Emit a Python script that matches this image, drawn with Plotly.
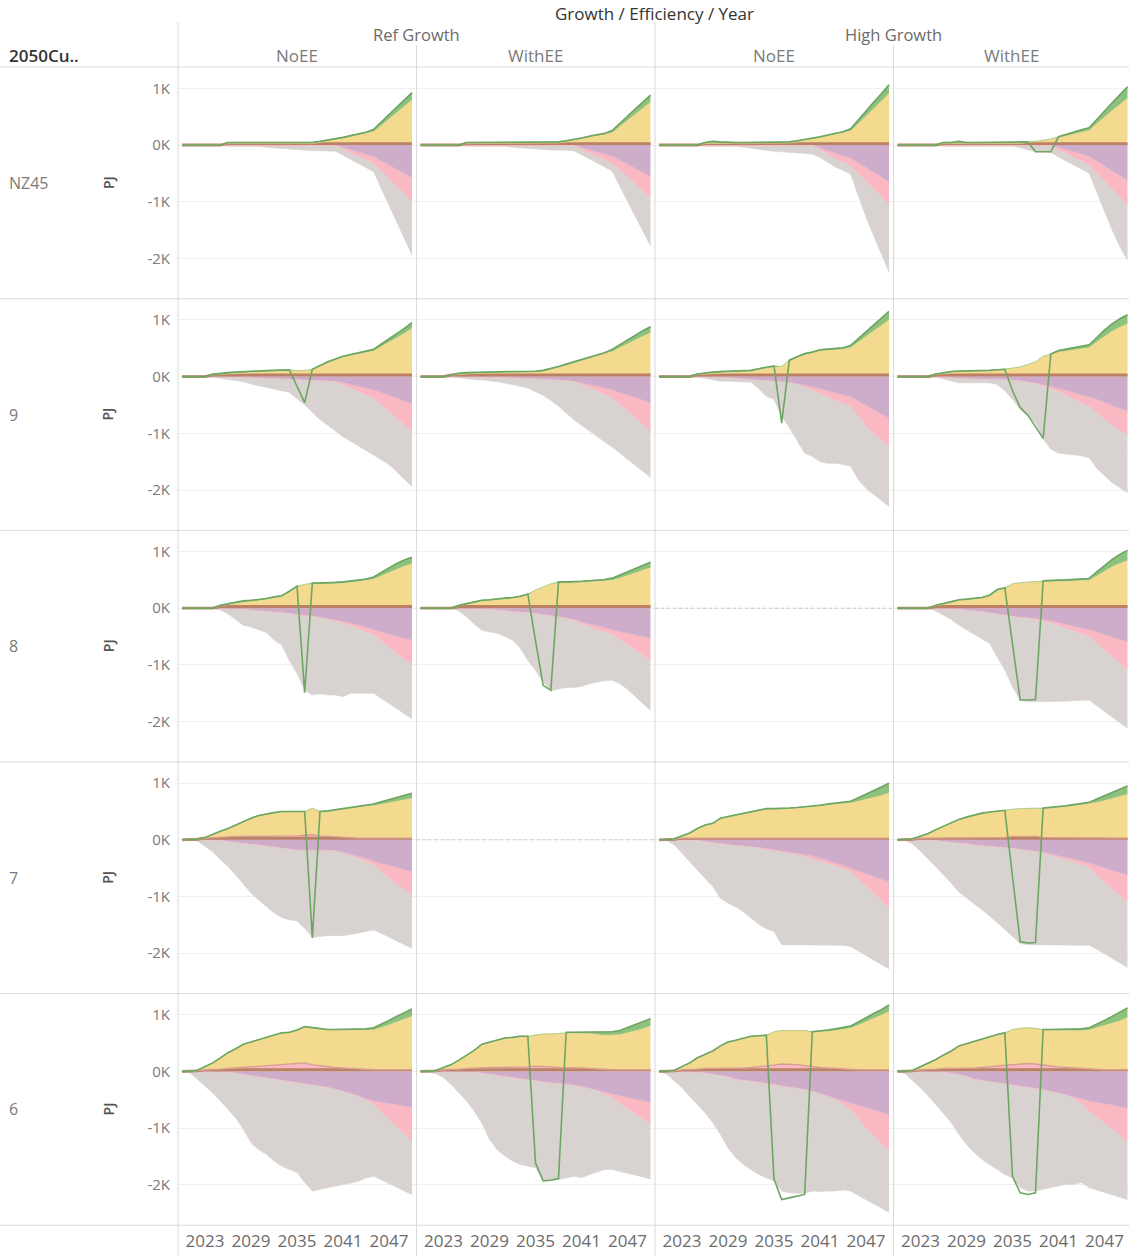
import plotly.graph_objects as go

# ---------------------------------------------------------------- axes / labels
YEARS = list(range(2020, 2051))
ROW_LABELS = ["NZ45", "9", "8", "7", "6"]
GROWTH_LABELS = ["Ref Growth", "High Growth"]
EFFICIENCY_LABELS = ["NoEE", "WithEE", "NoEE", "WithEE"]
YEAR_TICKS = [2023, 2029, 2035, 2041, 2047]
PJ_TICKS = [-2000, -1000, 0, 1000]
PJ_TICK_TEXT = ["-2K", "-1K", "0K", "1K"]

# ---------------------------------------------------------------- data (PJ, 2020..2050)
brown_from_2026 = [0,0,0,0,0, 0,25,25,25,25, 25,25,25,25,25, 25,25,25,25,25, 25,25,25,25,25, 25,25,25,25,25, 25]
brown_from_2024 = [0,0,0,0,30, 30,30,30,30,30, 30,30,30,30,30, 30,30,30,30,30, 30,30,30,30,30, 30,30,30,30,30, 30]
brown_from_2025 = [0,0,0,0,0, 30,30,30,30,30, 30,30,30,30,30, 30,30,30,30,30, 30,30,30,30,30, 30,30,30,30,30, 30]
brown_from_2022 = [0,0,10,30,30, 30,30,30,30,30, 30,30,30,30,30, 30,30,30,30,30, 30,30,30,30,30, 30,30,30,30,30, 30]

# NZ45 · Ref Growth · NoEE
nz_rn_yellow = [0,0,0,0,0, 0,0,0,0,0, 0,0,0,0,0, 0,0,0,20,40, 60,90,120,150,180, 210,320,430,540,650, 770]
nz_rn_green  = [0,0,0,0,0, 0,20,20,20,20, 20,20,20,20,20, 20,20,20,20,20, 20,20,20,20,20, 40,60,80,100,115, 130]
nz_rn_purple = [0,0,0,0,0, 0,0,0,0,0, 0,0,0,0,0, 0,0,0,0,0, 0,40,80,120,160, 200,280,350,430,500, 580]
nz_rn_pink   = [0,0,0,0,0, 0,20,20,20,20, 20,20,20,20,20, 10,10,10,10,10, 10,30,50,70,95, 120,180,240,300,360, 420]
nz_rn_gray   = [0,0,0,0,0, 0,0,0,0,0, 0,20,30,40,60, 80,90,90,90,90, 100,110,120,130,140, 150,310,470,630,790, 940]

# NZ45 · Ref Growth · WithEE
nz_rw_yellow = [0,0,0,0,0, 0,0,0,0,0, 0,0,0,0,0, 0,0,0,10,30, 50,80,110,140,160, 190,300,410,520,620, 730]
nz_rw_green  = [0,0,0,0,0, 0,20,20,20,20, 20,20,20,20,20, 20,20,20,20,20, 20,20,20,20,20, 40,60,75,90,110, 125]
nz_rw_purple = [0,0,0,0,0, 0,0,0,0,0, 0,0,0,0,0, 0,0,0,0,0, 0,40,80,120,160, 200,270,340,410,480, 550]
nz_rw_pink   = [0,0,0,0,0, 0,20,20,20,20, 20,20,20,20,20, 10,10,10,10,10, 10,30,50,70,95, 120,170,220,270,325, 380]
nz_rw_gray   = [0,0,0,0,0, 0,0,0,0,0, 0,0,20,30,50, 70,80,80,80,80, 90,100,110,120,130, 140,290,430,570,710, 850]

# NZ45 · High Growth · NoEE
nz_hn_yellow = [0,0,0,0,0, 0,0,0,0,0, 0,0,0,0,0, 0,0,10,30,50, 70,100,130,160,190, 220,350,480,610,740, 880]
nz_hn_green  = [0,0,0,0,0, 0,20,40,30,20, 20,20,20,20,20, 20,20,20,20,20, 20,20,20,20,20, 40,70,100,120,140, 155]
nz_hn_purple = [0,0,0,0,0, 0,0,0,0,0, 0,0,0,0,0, 0,0,0,0,0, 0,50,100,150,190, 230,310,390,470,560, 650]
nz_hn_pink   = [0,0,0,0,0, 0,20,20,20,20, 20,20,20,20,20, 10,10,10,10,10, 10,30,60,90,110, 130,190,240,300,350, 410]
nz_hn_gray   = [0,0,0,0,0, 0,0,0,0,0, 0,20,40,60,80, 100,110,120,130,140, 150,140,145,150,150, 150,400,640,830,1010, 1180]

# NZ45 · High Growth · WithEE
nz_hw_yellow = [0,0,0,0,0, 0,0,0,0,0, 0,0,0,0,0, 0,0,20,40,60, 80,100,135,170,200, 230,350,470,580,690, 800]
nz_hw_green  = [0,0,0,0,0, 0,20,20,40,20, 20,20,20,20,20, 20,20,10,0,0, 0,20,30,40,45, 50,80,110,140,170, 200]
nz_hw_purple = [0,0,0,0,0, 0,0,0,0,0, 0,0,0,0,0, 0,0,0,0,0, 0,40,80,120,160, 200,285,370,450,535, 620]
nz_hw_pink   = [0,0,0,0,0, 0,20,20,20,20, 20,20,20,20,20, 20,10,10,10,10, 10,40,60,90,120, 150,210,270,330,380, 440]
nz_hw_gray   = [0,0,0,0,0, 0,0,0,0,0, 0,0,0,0,0, 0,40,80,110,110, 120,130,140,150,150, 150,340,530,720,880, 970]
nz_hw_net    = {2038: -120, 2039: -125, 2040: -120}

# 9 · Ref Growth · NoEE
r9_rn_yellow = [0,0,0,0,0, 10,20,30,40,45, 50,55,60,65,70, 75,80,80,150,210, 260,310,340,370,400, 420,500,570,650,730, 820]
r9_rn_green  = [0,0,0,0,10, 20,20,20,20,20, 20,20,20,20,20, 0,0,20,20,20, 20,20,20,20,20, 30,45,60,75,90, 100]
r9_rn_purple = [0,0,0,0,0, 0,0,0,10,20, 25,30,35,40,45, 50,55,60,65,70, 80,110,140,170,200, 230,280,330,380,430, 480]
r9_rn_pink   = [0,0,0,0,0, 0,0,0,0,0, 0,0,0,0,0, 0,0,0,0,0, 0,30,60,90,120, 150,220,280,350,420, 490]
r9_rn_gray   = [0,0,0,0,10, 30,50,70,80,110, 135,160,185,210,235, 340,445,570,695,790, 880,920,940,960,980, 1000,960,940,950,960, 970]
r9_rn_net    = {2035: -170, 2036: -460}

# 9 · Ref Growth · WithEE
r9_rw_yellow = [0,0,0,0,0, 10,20,25,30,35, 40,40,40,40,40, 45,60,90,130,170, 210,250,290,330,370, 410,480,550,620,680, 740]
r9_rw_green  = [0,0,0,0,0, 20,20,20,20,20, 20,20,20,20,20, 20,20,20,20,20, 20,20,20,20,20, 40,55,70,85,100, 110]
r9_rw_purple = [0,0,0,0,0, 0,0,0,0,0, 10,15,20,30,35, 40,45,50,60,70, 80,110,140,170,200, 230,280,320,370,410, 460]
r9_rw_pink   = [0,0,0,0,0, 0,0,0,0,0, 0,0,0,0,0, 0,0,0,0,0, 0,20,50,80,110, 140,210,280,350,430, 510]
r9_rw_gray   = [0,0,0,0,0, 20,40,50,60,70, 80,100,120,140,170, 230,285,370,460,570, 680,730,770,810,840, 870,860,860,850,840, 810]

# 9 · High Growth · NoEE
r9_hn_yellow = [0,0,0,0,0, 5,15,30,40,45, 50,55,60,90,110, 140,150,240,300,350, 380,420,430,440,450, 480,580,680,780,880, 970]
r9_hn_green  = [0,0,0,0,0, 10,20,20,20,20, 20,20,20,20,20, 20,0,20,20,25, 25,25,25,30,30, 40,60,90,110,130, 150]
r9_hn_purple = [0,0,0,0,0, 0,0,0,10,20, 30,40,50,60,70, 80,90,100,120,150, 180,220,250,290,320, 350,430,510,590,660, 730]
r9_hn_pink   = [0,0,0,0,0, 0,0,0,0,0, 0,0,0,0,0, 0,0,0,10,30, 50,70,100,130,150, 170,270,360,410,460, 500]
r9_hn_gray   = [0,0,0,0,0, 10,30,50,70,60, 60,50,50,150,280, 320,610,800,1000,1170, 1180,1210,1180,1110,1080, 1060,1120,1100,1080,1070, 1060]
r9_hn_net    = {2036: -820}

# 9 · High Growth · WithEE
r9_hw_yellow = [0,0,0,0,0, 5,20,40,50,50, 55,60,60,70,80, 120,140,180,230,330, 350,400,420,440,460, 480,580,680,770,840, 900]
r9_hw_green  = [0,0,0,0,0, 10,20,20,20,20, 20,20,20,20,20, 0,0,0,0,0, 20,30,35,40,45, 50,80,110,130,150, 160]
r9_hw_purple = [0,0,0,0,0, 0,10,20,30,40, 40,40,40,40,50, 60,70,90,110,140, 170,200,240,280,320, 350,400,450,510,560, 610]
r9_hw_pink   = [0,0,0,0,0, 0,0,0,0,0, 0,0,0,0,0, 0,0,0,10,20, 40,60,90,120,150, 170,240,300,350,380, 410]
r9_hw_gray   = [0,0,0,0,0, 10,30,60,80,70, 70,70,70,100,200, 340,510,610,700,940, 1070,1090,1030,980,930, 910,980,1000,1010,1020, 1030]
r9_hw_net    = {2035: -250, 2036: -540, 2037: -680, 2038: -880, 2039: -1090}

# 8 · Ref Growth · NoEE
r8_rn_yellow = [0,0,0,0,0, 10,30,50,80,90, 100,120,150,170,250, 340,390,390,390,390, 400,410,420,440,460, 480,540,600,660,710, 750]
r8_rn_green  = [0,0,0,0,0, 10,20,20,20,20, 20,20,20,20,20, 20,0,25,25,25, 25,25,25,25,25, 40,60,80,100,110, 120]
r8_rn_purple = [0,0,0,0,0, 0,0,10,20,30, 40,50,60,70,90, 110,120,140,160,180, 200,230,260,300,340, 380,420,450,490,530, 560]
r8_rn_pink   = [0,0,0,0,0, 0,0,0,0,0, 0,0,0,0,0, 0,0,0,0,10, 20,30,40,60,70, 80,160,240,310,370, 420]
r8_rn_gray   = [0,0,0,0,0, 30,100,190,280,300, 340,380,500,580,830, 1040,1330,1390,1350,1340, 1310,1300,1200,1140,1080, 1040,1010,990,970,960, 970]
r8_rn_net    = {2036: -1490}

# 8 · Ref Growth · WithEE
r8_rw_yellow = [0,0,0,0,0, 10,30,60,90,100, 110,120,140,160,200, 290,350,400,410,410, 410,420,430,440,450, 460,500,540,590,640, 680]
r8_rw_green  = [0,0,0,0,0, 10,20,20,20,20, 20,20,20,20,20, 0,0,0,25,25, 25,25,25,25,25, 40,55,70,80,90, 100]
r8_rw_purple = [0,0,0,0,0, 0,0,0,10,20, 30,40,50,60,70, 90,110,130,150,170, 200,240,270,310,340, 380,410,440,470,500, 530]
r8_rw_pink   = [0,0,0,0,0, 0,0,0,0,0, 0,0,0,0,0, 0,0,0,0,0, 10,30,50,60,70, 80,140,200,260,320, 390]
r8_rw_gray   = [0,0,0,0,0, 50,150,280,380,400, 410,460,510,640,850, 1010,1190,1320,1270,1230, 1190,1110,1010,930,870, 810,780,790,830,860, 880]
r8_rw_net    = {2035: -570, 2036: -1360, 2037: -1450}

# 8 · High Growth · WithEE
r8_hw_yellow = [0,0,0,0,0, 10,30,60,100,110, 120,140,180,280,310, 400,420,430,440,430, 430,440,445,450,455, 460,540,620,700,760, 810]
r8_hw_green  = [0,0,0,0,0, 10,20,20,20,20, 20,20,20,20,20, 0,0,0,0,25, 25,25,25,25,25, 35,70,100,130,160, 180]
r8_hw_purple = [0,0,0,0,0, 0,0,10,20,30, 40,60,80,100,120, 150,160,170,180,200, 220,250,280,310,350, 380,420,460,500,550, 590]
r8_hw_pink   = [0,0,0,0,0, 0,0,0,0,0, 0,0,0,0,0, 0,0,0,10,20, 30,50,70,90,110, 120,200,280,350,420, 490]
r8_hw_gray   = [0,0,0,0,0, 50,120,190,280,350, 410,470,540,760,970, 1240,1460,1480,1460,1430, 1400,1350,1290,1230,1160, 1120,1100,1080,1070,1050, 1040]
r8_hw_net    = {2035: -630, 2036: -1620, 2037: -1620, 2038: -1610}

# 7 · Ref Growth · NoEE
r7_rn_rose   = [0,0,0,0,10, 20,20,30,30,30, 30,30,30,30,30, 40,50,60,40,30, 20,10,0,0,0, 0,0,0,0,0, 0]
r7_rn_yellow = [0,0,0,0,45, 85,135,185,255,305, 355,385,405,425,425, 415,405,470,410,430, 460,500,530,540,560, 570,595,620,650,680, 700]
r7_rn_green  = [0,0,0,10,15, 15,15,15,15,15, 15,15,15,15,15, 15,15,0,20,20, 20,20,20,20,20, 30,45,60,70,80, 90]
r7_rn_purple = [0,0,0,0,0, 10,30,50,60,80, 90,110,130,150,170, 180,180,180,180,190, 190,220,250,290,330, 380,420,450,490,520, 560]
r7_rn_pink   = [0,0,0,0,0, 0,0,0,0,0, 0,0,0,0,0, 0,0,0,0,0, 0,10,20,30,45, 60,140,220,290,350, 410]
r7_rn_gray   = [0,0,20,120,210, 340,440,570,730,860, 970,1070,1160,1220,1240, 1250,1380,1540,1520,1500, 1500,1460,1400,1320,1235, 1150,1090,1050,1000,980, 940]
r7_rn_net    = {2037: -1730}

# 7 · High Growth · NoEE
r7_hn_rose   = [0,0,0,0,0, 0,10,10,10,10, 10,10,10,10,10, 10,10,10,10,10, 10,0,0,0,0, 0,0,0,0,0, 0]
r7_hn_yellow = [0,0,5,25,75, 155,205,235,325,355, 385,415,445,475,495, 495,495,505,515,525, 545,560,580,595,610, 620,650,680,720,750, 795]
r7_hn_green  = [0,0,5,15,15, 15,15,15,15,15, 15,15,15,15,15, 15,15,15,15,15, 15,20,20,20,20, 30,60,90,120,150, 175]
r7_hn_purple = [0,0,0,0,0, 10,30,50,70,80, 100,110,120,130,150, 170,190,210,230,250, 280,320,360,400,450, 500,550,600,650,700, 740]
r7_hn_pink   = [0,0,0,0,0, 0,0,0,0,0, 0,0,0,10,20, 20,30,30,30,40, 50,50,50,50,50, 50,130,220,300,380, 460]
r7_hn_gray   = [0,10,90,240,380, 520,650,770,960,1040, 1080,1160,1260,1350,1400, 1430,1630,1610,1590,1560, 1530,1490,1450,1410,1360, 1330,1280,1220,1170,1120, 1080]

# 7 · High Growth · WithEE
r7_hw_rose   = [0,0,0,0,0, 0,10,10,10,10, 10,10,10,10,10, 30,30,30,30,10, 10,0,0,0,0, 0,0,0,0,0, 0]
r7_hw_yellow = [0,0,5,15,65, 135,185,235,305,345, 385,415,435,455,465, 480,490,490,500,500, 510,530,550,570,590, 600,630,660,700,730, 770]
r7_hw_green  = [0,0,5,15,15, 15,15,15,15,15, 15,15,15,15,15, 0,0,0,0,20, 20,20,20,20,20, 30,60,90,110,130, 150]
r7_hw_purple = [0,0,0,0,0, 10,30,40,60,70, 90,100,110,120,140, 150,170,180,200,220, 250,280,310,340,370, 400,450,500,540,580, 620]
r7_hw_pink   = [0,0,0,0,0, 0,0,0,0,0, 0,0,0,0,0, 0,0,0,0,10, 20,30,40,50,60, 70,160,250,330,400, 470]
r7_hw_gray   = [0,10,80,200,340, 470,590,720,860,960, 1040,1130,1230,1340,1440, 1550,1660,1670,1650,1620, 1580,1540,1500,1460,1420, 1390,1320,1260,1220,1190, 1160]
r7_hw_net    = {2035: -650, 2036: -1800, 2037: -1820, 2038: -1810}

# 6 · Ref Growth · NoEE
r6_rn_rose   = [0,0,0,0,0, 10,20,30,40,50, 60,70,70,80,90, 100,120,90,70,50, 40,30,20,10,10, 0,0,0,0,0, 0]
r6_rn_yellow = [0,0,5,35,105, 185,265,325,395,425, 455,495,535,555,555, 585,625,635,635,645, 655,665,675,685,695, 700,740,790,840,885, 940]
r6_rn_green  = [0,0,5,15,15, 15,15,15,15,15, 15,15,15,15,15, 15,15,15,15,15, 15,15,15,15,15, 40,60,80,100,115, 130]
r6_rn_purple = [0,0,0,0,0, 0,10,30,50,70, 90,110,130,150,170, 190,210,230,250,280, 310,350,390,430,480, 520,540,560,590,610, 640]
r6_rn_pink   = [0,0,0,0,0, 0,0,0,0,0, 0,0,0,0,0, 0,0,0,0,0, 0,0,0,0,30, 60,170,280,380,490, 590]
r6_rn_gray   = [0,20,140,260,380, 520,660,790,970,1190, 1290,1350,1450,1520,1560, 1590,1750,1880,1830,1770, 1710,1650,1580,1510,1370, 1270,1200,1140,1070,1010, 940]

# 6 · Ref Growth · WithEE
r6_rw_rose   = [0,0,0,0,0, 10,20,30,40,40, 40,40,40,40,50, 60,60,50,40,40, 30,30,20,10,0, 0,0,0,0,0, 0]
r6_rw_yellow = [0,0,0,25,75, 145,215,295,395,435, 465,505,515,535,525, 550,570,580,600,605, 615,615,615,610,605, 610,615,650,685,720, 770]
r6_rw_green  = [0,0,5,15,15, 15,15,15,15,15, 15,15,15,15,15, 0,0,0,0,15, 15,15,25,40,55, 60,75,90,105,120, 130]
r6_rw_purple = [0,0,0,0,0, 0,0,10,30,50, 70,90,110,130,150, 170,190,200,210,220, 240,270,300,330,370, 400,430,460,490,520, 550]
r6_rw_pink   = [0,0,0,0,0, 0,0,0,0,0, 0,0,0,0,0, 0,0,0,0,0, 0,0,0,0,30, 60,130,200,260,320, 380]
r6_rw_gray   = [0,10,40,110,230, 380,520,690,880,1150, 1310,1400,1470,1510,1520, 1530,1730,1720,1700,1660, 1610,1600,1520,1450,1330, 1270,1200,1130,1080,1020, 970]
r6_rw_net    = {2035: -1610, 2036: -1930, 2037: -1920, 2038: -1890}

# 6 · High Growth · NoEE
r6_hn_rose   = [0,0,0,0,0, 10,20,20,30,30, 30,30,40,50,60, 80,100,100,90,70, 50,40,30,20,10, 0,0,0,0,0, 0]
r6_hn_yellow = [0,0,5,45,105, 185,235,295,375,445, 475,505,535,535,535, 590,590,590,600,620, 605,620,645,670,695, 730,785,850,905,960, 1020]
r6_hn_green  = [0,0,5,15,15, 15,15,15,15,15, 15,15,15,15,15, 0,0,0,0,0, 15,20,25,30,35, 40,55,70,85,100, 120]
r6_hn_purple = [0,0,0,0,0, 10,30,50,70,90, 140,150,170,190,210, 230,250,270,300,320, 350,390,430,470,510, 550,590,630,680,720, 760]
r6_hn_pink   = [0,0,0,0,0, 0,0,0,0,0, 0,0,0,0,0, 0,0,0,0,0, 0,0,0,20,60, 120,250,370,450,550, 640]
r6_hn_gray   = [0,50,170,290,440, 570,700,850,1040,1260, 1380,1490,1560,1630,1670, 1700,1860,1870,1850,1830, 1760,1730,1680,1620,1520, 1440,1350,1260,1210,1140, 1090]
r6_hn_net    = {2035: -1900, 2036: -2260, 2037: -2230, 2038: -2200, 2039: -2170}

# 6 · High Growth · WithEE
r6_hw_rose   = [0,0,0,0,0, 10,20,20,30,30, 30,40,50,60,70, 80,100,110,100,80, 60,50,40,30,20, 10,0,0,0,0, 0]
r6_hw_yellow = [0,0,5,35,105, 155,225,295,375,415, 465,495,525,545,565, 630,630,630,630,615, 630,640,645,650,665, 690,740,780,820,860, 920]
r6_hw_green  = [0,0,5,15,15, 15,15,15,15,15, 15,15,15,15,15, 0,0,0,0,15, 20,20,25,30,35, 40,60,90,120,150, 170]
r6_hw_purple = [0,0,0,0,0, 0,10,30,50,80, 140,160,180,200,220, 230,250,270,290,320, 350,380,410,440,480, 520,540,570,590,620, 640]
r6_hw_pink   = [0,0,0,0,0, 0,0,0,0,0, 0,0,0,0,0, 0,0,0,0,0, 0,0,0,30,90, 180,260,340,420,510, 590]
r6_hw_gray   = [0,40,170,290,430, 580,720,870,1060,1210, 1290,1390,1460,1530,1600, 1650,1800,1840,1820,1760, 1700,1640,1580,1520,1390, 1350,1290,1220,1160,1090, 1030]
r6_hw_net    = {2035: -1850, 2036: -2140, 2037: -2170, 2038: -2140}

# (row, column) -> series of each cell; two cells have no data
PANELS = {
    (0, 0): dict(brown=brown_from_2026, yellow=nz_rn_yellow, green=nz_rn_green, purple=nz_rn_purple, pink=nz_rn_pink, gray=nz_rn_gray),
    (0, 1): dict(brown=brown_from_2026, yellow=nz_rw_yellow, green=nz_rw_green, purple=nz_rw_purple, pink=nz_rw_pink, gray=nz_rw_gray),
    (0, 2): dict(brown=brown_from_2026, yellow=nz_hn_yellow, green=nz_hn_green, purple=nz_hn_purple, pink=nz_hn_pink, gray=nz_hn_gray),
    (0, 3): dict(brown=brown_from_2026, yellow=nz_hw_yellow, green=nz_hw_green, purple=nz_hw_purple, pink=nz_hw_pink, gray=nz_hw_gray, net=nz_hw_net),
    (1, 0): dict(brown=brown_from_2024, yellow=r9_rn_yellow, green=r9_rn_green, purple=r9_rn_purple, pink=r9_rn_pink, gray=r9_rn_gray, net=r9_rn_net),
    (1, 1): dict(brown=brown_from_2024, yellow=r9_rw_yellow, green=r9_rw_green, purple=r9_rw_purple, pink=r9_rw_pink, gray=r9_rw_gray),
    (1, 2): dict(brown=brown_from_2025, yellow=r9_hn_yellow, green=r9_hn_green, purple=r9_hn_purple, pink=r9_hn_pink, gray=r9_hn_gray, net=r9_hn_net),
    (1, 3): dict(brown=brown_from_2025, yellow=r9_hw_yellow, green=r9_hw_green, purple=r9_hw_purple, pink=r9_hw_pink, gray=r9_hw_gray, net=r9_hw_net),
    (2, 0): dict(brown=brown_from_2025, yellow=r8_rn_yellow, green=r8_rn_green, purple=r8_rn_purple, pink=r8_rn_pink, gray=r8_rn_gray, net=r8_rn_net),
    (2, 1): dict(brown=brown_from_2025, yellow=r8_rw_yellow, green=r8_rw_green, purple=r8_rw_purple, pink=r8_rw_pink, gray=r8_rw_gray, net=r8_rw_net),
    (2, 3): dict(brown=brown_from_2025, yellow=r8_hw_yellow, green=r8_hw_green, purple=r8_hw_purple, pink=r8_hw_pink, gray=r8_hw_gray, net=r8_hw_net),
    (3, 0): dict(brown=brown_from_2022, rose=r7_rn_rose, yellow=r7_rn_yellow, green=r7_rn_green, purple=r7_rn_purple, pink=r7_rn_pink, gray=r7_rn_gray, net=r7_rn_net),
    (3, 2): dict(brown=brown_from_2022, rose=r7_hn_rose, yellow=r7_hn_yellow, green=r7_hn_green, purple=r7_hn_purple, pink=r7_hn_pink, gray=r7_hn_gray),
    (3, 3): dict(brown=brown_from_2022, rose=r7_hw_rose, yellow=r7_hw_yellow, green=r7_hw_green, purple=r7_hw_purple, pink=r7_hw_pink, gray=r7_hw_gray, net=r7_hw_net),
    (4, 0): dict(brown=brown_from_2022, rose=r6_rn_rose, yellow=r6_rn_yellow, green=r6_rn_green, purple=r6_rn_purple, pink=r6_rn_pink, gray=r6_rn_gray),
    (4, 1): dict(brown=brown_from_2022, rose=r6_rw_rose, yellow=r6_rw_yellow, green=r6_rw_green, purple=r6_rw_purple, pink=r6_rw_pink, gray=r6_rw_gray, net=r6_rw_net),
    (4, 2): dict(brown=brown_from_2022, rose=r6_hn_rose, yellow=r6_hn_yellow, green=r6_hn_green, purple=r6_hn_purple, pink=r6_hn_pink, gray=r6_hn_gray, net=r6_hn_net),
    (4, 3): dict(brown=brown_from_2022, rose=r6_hw_rose, yellow=r6_hw_yellow, green=r6_hw_green, purple=r6_hw_purple, pink=r6_hw_pink, gray=r6_hw_gray, net=r6_hw_net),
}

for key, p in PANELS.items():
    for name, vals in p.items():
        if name != "net":
            assert len(vals) == len(YEARS), (key, name, len(vals))

# ---------------------------------------------------------------- styling
FILL = dict(brown="#c48c74", rose="#f8b9c3", yellow="#f4da8f", green="#8cc27d",
            purple="#ceadca", pink="#fab8c3", gray="#d8d3d0")
EDGE = dict(brown="#bc8066", rose="#d99e92", green_line="#6da561")
FONT = "Open Sans"
W, H = 1129, 1256
COL_EDGES = [178, 416.5, 655, 893.5, 1129]
ROW_TOP0, ROW_PITCH, ROW_H = 68, 231.6, 230
PX_PER_YEAR = 230 / 30
Y_RANGE = [-2698, 1358]
GRID = "#d9d9d9"

fig = go.Figure()
layout = {}
shapes = []
annotations = []

for r in range(5):
    for c in range(4):
        n = r * 4 + c + 1
        sfx = "" if n == 1 else str(n)
        L, R = COL_EDGES[c], COL_EDGES[c + 1]
        top = ROW_TOP0 + ROW_PITCH * r
        x0 = 2020 - 4 / PX_PER_YEAR
        layout["xaxis" + sfx] = dict(
            domain=[L / W, R / W], range=[x0, x0 + (R - L) / PX_PER_YEAR],
            anchor="y" + sfx, tickvals=YEAR_TICKS, showticklabels=(r == 4),
            ticks="", showgrid=False, zeroline=False, showline=False, ticklabelstandoff=5,
            tickfont=dict(family=FONT, size=17, color="#6b6b6b"), fixedrange=True)
        layout["yaxis" + sfx] = dict(
            domain=[1 - (top + ROW_H) / H, 1 - top / H], range=Y_RANGE,
            anchor="x" + sfx, tickvals=PJ_TICKS, ticktext=PJ_TICK_TEXT,
            showticklabels=(c == 0), ticks="", showgrid=True, gridcolor="#efefef",
            gridwidth=1, zeroline=False, showline=False, ticklabelstandoff=7,
            tickfont=dict(family=FONT, size=15, color="#7a7a7a"), fixedrange=True)

        xa, ya = "x" + sfx, "y" + sfx
        p = PANELS.get((r, c))
        if p is None:
            shapes.append(dict(type="line", xref=xa + " domain", yref=ya, x0=0, x1=1, y0=0, y1=0,
                               line=dict(color="#c9c9c9", width=1, dash="dot")))
            continue

        # losses stacked downward from zero
        for name in ["purple", "pink", "gray"]:
            vals = p.get(name)
            if vals is None:
                continue
            fig.add_trace(go.Scatter(
                x=YEARS, y=[-v for v in vals], xaxis=xa, yaxis=ya, mode="lines",
                stackgroup=f"neg{n}", fillcolor=FILL[name],
                line=dict(width=0.6, color=FILL[name]), hoverinfo="skip", showlegend=False))

        # gains stacked upward from zero
        for name in ["brown", "rose", "yellow", "green"]:
            vals = p.get(name)
            if vals is None:
                continue
            edge = dict(width=0.6, color=FILL[name])
            if name == "brown":
                edge = dict(width=2.8, color=EDGE["brown"])
            elif name == "rose":
                edge = dict(width=1.4, color=EDGE["rose"])
            fig.add_trace(go.Scatter(
                x=YEARS, y=vals, xaxis=xa, yaxis=ya, mode="lines",
                stackgroup=f"pos{n}", fillcolor=FILL[name], line=edge,
                hoverinfo="skip", showlegend=False))

        # net line: top of the gains stack, except in the years where it swings negative
        net = p.get("net", {})
        stack_top = [sum(p[k][i] for k in ["brown", "rose", "yellow", "green"] if k in p)
                     for i in range(len(YEARS))]
        net_line = [net.get(yr, stack_top[i]) for i, yr in enumerate(YEARS)]
        fig.add_trace(go.Scatter(
            x=YEARS, y=net_line, xaxis=xa, yaxis=ya, mode="lines",
            line=dict(width=1.6, color=EDGE["green_line"]), hoverinfo="skip", showlegend=False))

# ---------------------------------------------------------------- frame lines
def hline(y, x0=0, x1=W):
    shapes.append(dict(type="line", xref="paper", yref="paper", x0=x0 / W, x1=x1 / W,
                       y0=1 - y / H, y1=1 - y / H, line=dict(color=GRID, width=1), layer="above"))

def vline(x, y0, y1=H):
    shapes.append(dict(type="line", xref="paper", yref="paper", x0=x / W, x1=x / W,
                       y0=1 - y0 / H, y1=1 - y1 / H, line=dict(color=GRID, width=1), layer="above"))

hline(67)
for r in range(5):
    hline(ROW_TOP0 + ROW_PITCH * r + ROW_H + 0.8)
vline(178, 22)
vline(655, 22)
vline(416.5, 45)
vline(893.5, 45)

# ---------------------------------------------------------------- header text
def text(s, x, y, size, color, xanchor="center", weight=400, angle=0):
    annotations.append(dict(text=s, x=x / W, y=1 - y / H, xref="paper", yref="paper",
                            xanchor=xanchor, yanchor="middle", showarrow=False, textangle=angle,
                            font=dict(family=FONT, size=size, color=color, weight=weight)))

text("Growth / Efficiency / Year", 654, 13, 17, "#333333", weight=500)
text(GROWTH_LABELS[0], 416.5, 35, 16.5, "#6b6b6b")
text(GROWTH_LABELS[1], 893.5, 35, 16.5, "#6b6b6b")
for c, lab in enumerate(EFFICIENCY_LABELS):
    text(lab, (COL_EDGES[c] + COL_EDGES[c + 1]) / 2, 56, 17, "#7a7a7a")
text("2050Cu..", 7, 56, 17, "#333333", xanchor="left", weight=600)

for r, lab in enumerate(ROW_LABELS):
    yc = ROW_TOP0 + ROW_PITCH * r + ROW_H / 2
    text(lab, 7, yc, 16, "#7a7a7a", xanchor="left")
    text("PJ", 108, yc, 14, "#555555", weight=600, angle=-90)

fig.update_layout(
    width=W, height=H, margin=dict(l=0, r=0, t=0, b=0),
    paper_bgcolor="white", plot_bgcolor="white",
    shapes=shapes, annotations=annotations, showlegend=False,
    font=dict(family=FONT), **layout)

fig.write_html("out.html")
